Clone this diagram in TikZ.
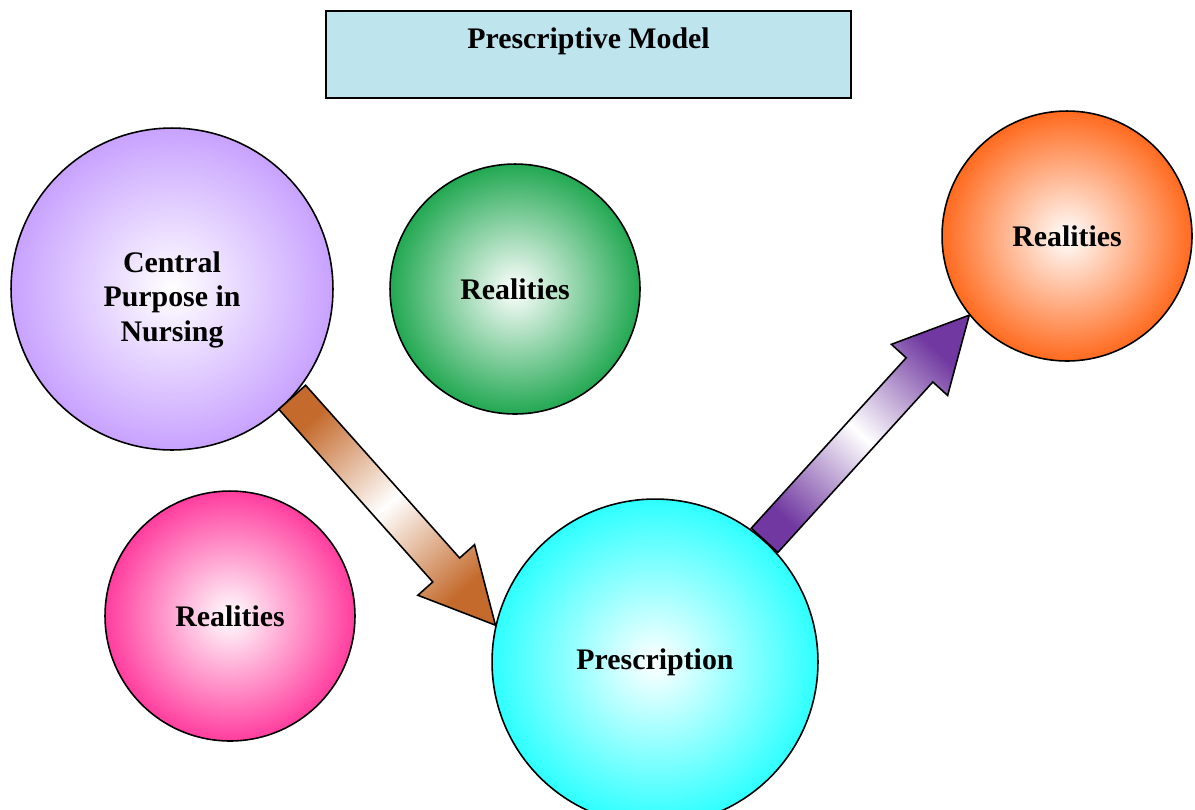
\documentclass[tikz,border=0pt]{standalone}
\usepackage{fontspec}
\setmainfont{Liberation Serif}
\usetikzlibrary{calc}
\definecolor{lilac}{HTML}{C8A2FF}
\definecolor{leaf}{HTML}{22A852}
\definecolor{tangerine}{HTML}{FF6A1E}
\definecolor{rose}{HTML}{FF3D9E}
\definecolor{aqua}{HTML}{2EFFFF}
\definecolor{clay}{HTML}{C46A2C}
\definecolor{plum}{HTML}{7038A0}
\definecolor{titleAqua}{HTML}{BEE5EE}
\begin{document}
\begin{tikzpicture}[x=0.02cm,y=-0.02cm]
  \tikzset{
    bubble/.style={circle,draw=black,line width=0.9pt,inner sep=0pt,inner color=white,align=center,font=\fontsize{17}{19.5}\selectfont\bfseries},
    heading/.style={draw=black,line width=0.9pt,fill=titleAqua,minimum width=10.5cm,inner ysep=0pt,text height=0.76cm,text depth=0.98cm,font=\fontsize{17}{20}\selectfont\bfseries},
    blockarrow/.style={draw=black,line width=0.9pt,line join=miter}
  }
  \useasboundingbox (0,0) rectangle (1195,809);

  \node[heading,anchor=north] (title) at (588.5,10) {Prescriptive Model};

  \node[bubble,outer color=lilac,minimum size=6.44cm] (purpose) at (172,289)
    {\begin{tabular}{@{}c@{}}\rule{0pt}{0.92cm}Central\\Purpose in\\Nursing\end{tabular}};
  \node[bubble,outer color=leaf,minimum size=5cm] (realA) at (515,289) {Realities};
  \node[bubble,outer color=tangerine,minimum size=5cm] (realB) at (1067,236) {Realities};
  \node[bubble,outer color=rose,minimum size=5cm] (realC) at (230,616) {Realities};
  \node[bubble,outer color=aqua,minimum size=6.52cm] (prescription) at (655,662) {Prescription};

  % block arrows between the circles
  \foreach \from/\to/\col/\ang in {purpose.-42/prescription.167/clay/42,prescription.48/realB.219/plum/-43}
  {
    \coordinate (tail) at (\from);
    \coordinate (tip) at (\to);
    \coordinate (neck) at ($(tip)!1.48cm!(tail)$);
    \draw[blockarrow,top color=\col,bottom color=\col,middle color=white,shading angle=\ang]
      ($(tail)!0.36cm!90:(tip)$) -- ($(neck)!0.36cm!90:(tip)$) -- ($(neck)!0.76cm!90:(tip)$) -- (tip)
      -- ($(neck)!0.76cm!-90:(tip)$) -- ($(neck)!0.36cm!-90:(tip)$) -- ($(tail)!0.36cm!-90:(tip)$) -- cycle;
  }
\end{tikzpicture}
\end{document}
